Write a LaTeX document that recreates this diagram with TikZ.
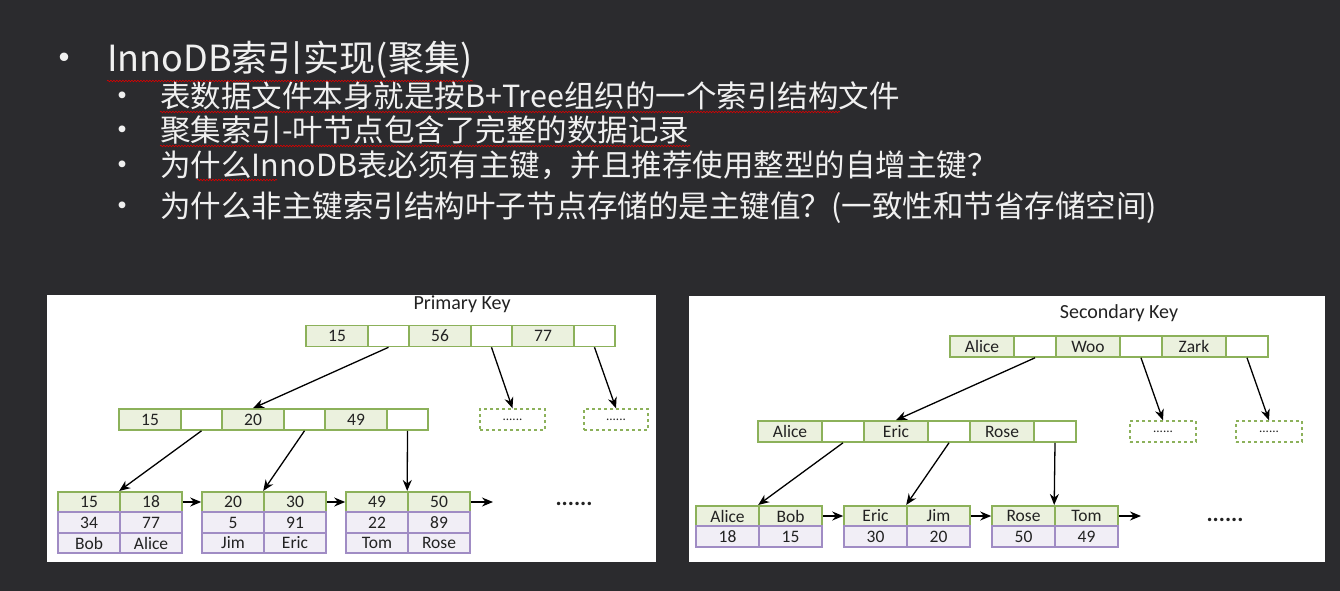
\documentclass[tikz,border=0pt]{standalone}
\usepackage{fontspec}
\newfontfamily\cjk{Noto Sans CJK SC}
\newfontfamily\dia{Carlito}
\usetikzlibrary{arrows.meta,decorations.pathmorphing}
\definecolor{bg}{HTML}{2B2B2E}
\definecolor{gborder}{HTML}{8CB15A}
\definecolor{gfill}{HTML}{EBF1DE}
\definecolor{pborder}{HTML}{A08CC4}
\definecolor{pfill}{HTML}{F1EEF6}
\definecolor{txt}{HTML}{F0F0F0}
\definecolor{celltxt}{HTML}{222222}
\tikzset{
  cell/.style={draw=gborder, line width=1.6pt, minimum height=21pt, inner sep=0pt,
    font=\dia\fontsize{17.5}{17.5}\selectfont, text=celltxt},
  kcell/.style={cell, fill=gfill},
  pcell/.style={cell, fill=white},
  vcell/.style={cell, draw=pborder, fill=pfill},
  dbox/.style={draw=gborder, dashed, line width=1.3pt, fill=white, minimum height=21pt,
    inner sep=0pt, font=\dia\fontsize{13}{13}\selectfont, text=celltxt},
  arr/.style={-{Stealth[length=11pt,width=9pt]}, line width=1.3pt, black},
  line/.style={anchor=base west, text=txt, inner sep=0pt},
  wavy/.style={red!85!black, line width=0.6pt, decorate,
    decoration={snake, amplitude=0.8pt, segment length=3pt}},
  ptitle/.style={font=\dia\fontsize{20}{20}\selectfont, text=celltxt},
  dots/.style={font=\dia\bfseries\fontsize{23}{23}\selectfont, text=celltxt},
}
\begin{document}
\begin{tikzpicture}[x=1pt,y=-1pt]
\useasboundingbox (0,0) rectangle (1340,591);
\fill[bg] (0,0) rectangle (1340,591);

% ---- text ----
\node[line, font=\cjk\fontsize{40}{40}\selectfont] (b0) at (44,73) {•};
\node[line, font=\cjk\fontsize{36}{36}\selectfont] (t0) at (107,72) {InnoDB索引实现(聚集)};
\foreach \n/\y/\t in {1/108/表数据文件本身就是按B+Tree组织的一个索引结构文件,
                      2/142/聚集索引-叶节点包含了完整的数据记录,
                      3/176/为什么InnoDB表必须有主键，并且推荐使用整型的自增主键？,
                      4/217/为什么非主键索引结构叶子节点存储的是主键值？(一致性和节省存储空间)}{
  \node[line, font=\cjk\fontsize{32}{32}\selectfont] (b\n) at (106,\y) {•};
  \node[line, font=\cjk\fontsize{30.5}{30.5}\selectfont] (t\n) at (160,\y) {\t};
}
\draw[wavy] (107,81) -- (473,81);
\draw[wavy] (160,112) -- (840,112);
\draw[wavy] (160,146) -- (690,146);
\draw[wavy] (197,180) -- (277,180);

% ---- panels ----
\fill[white] (47,295) rectangle (656,562);
\fill[white] (689,296) rectangle (1325,562);

% ================= LEFT: Primary Key =================
\node[ptitle] (ltitle) at (462,304) {Primary Key};
% root
\foreach \i/\t in {1/15,2/56,3/77}{
  \node[kcell, minimum width=62pt] (LRk\i) at ({306+103*(\i-1)+31},336) {\t};
  \node[pcell, minimum width=41pt] (LRp\i) at ({306+103*(\i-1)+82.5},336) {};
}
% level 2
\foreach \i/\t in {1/15,2/20,3/49}{
  \node[kcell, minimum width=62pt] (LMk\i) at ({119+103*(\i-1)+31},419.5) {\t};
  \node[pcell, minimum width=41pt] (LMp\i) at ({119+103*(\i-1)+82.5},419.5) {};
}
\node[dbox, minimum width=65pt] (LD1) at (512.5,419.5) {......};
\node[dbox, minimum width=64pt] (LD2) at (616,419.5) {......};
% leaves
\foreach \i/\a/\b/\c/\d/\e/\f in {1/15/18/34/77/Bob/Alice, 2/20/30/5/91/Jim/Eric, 3/49/50/22/89/Tom/Rose}{
  \node[kcell, minimum width=62pt, minimum height=20.5pt] (LL\i a) at ({58+144*(\i-1)+31},502) {\a};
  \node[kcell, minimum width=62pt, minimum height=20.5pt] (LL\i b) at ({58+144*(\i-1)+93},502) {\b};
  \node[vcell, minimum width=62pt, minimum height=20.5pt] (LL\i c) at ({58+144*(\i-1)+31},522.5) {\c};
  \node[vcell, minimum width=62pt, minimum height=20.5pt] (LL\i d) at ({58+144*(\i-1)+93},522.5) {\d};
  \node[vcell, minimum width=62pt, minimum height=20.5pt] (LL\i e) at ({58+144*(\i-1)+31},543) {\e};
  \node[vcell, minimum width=62pt, minimum height=20.5pt] (LL\i f) at ({58+144*(\i-1)+93},543) {\f};
}
\coordinate (LLend) at (493,502);
\node[dots] (Ldots) at (574,504) {......};
% arrows
\draw[arr] (LRp1.south) -- (LMk2.north);
\draw[arr] (LRp2.south) -- (LD1.north);
\draw[arr] (LRp3.south) -- (LD2.north);
\draw[arr] (LMp1.south) -- (LL1b.north west);
\draw[arr] (LMp2.south) -- (LL2b.north west);
\draw[arr] (LMp3.south) -- (LL3b.north west);
\draw[arr] (LL1b.east) -- (LL2a.west);
\draw[arr] (LL2b.east) -- (LL3a.west);
\draw[arr] (LL3b.east) -- (LLend);

% ================= RIGHT: Secondary Key =================
\node[ptitle] (rtitle) at (1119,313) {Secondary Key};
\foreach \i/\t in {1/Alice,2/Woo,3/Zark}{
  \node[kcell, minimum width=64pt] (RRk\i) at ({950+106*(\i-1)+32},346.5) {\t};
  \node[pcell, minimum width=42pt] (RRp\i) at ({950+106*(\i-1)+85},346.5) {};
}
\foreach \i/\t in {1/Alice,2/Eric,3/Rose}{
  \node[kcell, minimum width=64pt] (RMk\i) at ({758+106*(\i-1)+32},431.5) {\t};
  \node[pcell, minimum width=42pt] (RMp\i) at ({758+106*(\i-1)+85},431.5) {};
}
\node[dbox, minimum width=66pt] (RD1) at (1163,431.5) {......};
\node[dbox, minimum width=66pt] (RD2) at (1269,431.5) {......};
\foreach \i/\a/\b/\c/\d in {1/Alice/Bob/18/15, 2/Eric/Jim/30/20, 3/Rose/Tom/50/49}{
  \node[kcell, minimum width=63pt, minimum height=20.5pt] (RL\i a) at ({696+148*(\i-1)+31.5},516) {\a};
  \node[kcell, minimum width=63pt, minimum height=20.5pt] (RL\i b) at ({696+148*(\i-1)+94.5},516) {\b};
  \node[vcell, minimum width=63pt, minimum height=20.5pt] (RL\i c) at ({696+148*(\i-1)+31.5},536.5) {\c};
  \node[vcell, minimum width=63pt, minimum height=20.5pt] (RL\i d) at ({696+148*(\i-1)+94.5},536.5) {\d};
}
\coordinate (RLend) at (1141,516);
\node[dots] (Rdots) at (1225,520) {......};
\draw[arr] (RRp1.south) -- (RMk2.north);
\draw[arr] (RRp2.south) -- (RD1.north);
\draw[arr] (RRp3.south) -- (RD2.north);
\draw[arr] (RMp1.south) -- (RL1b.north west);
\draw[arr] (RMp2.south) -- (RL2b.north west);
\draw[arr] (RMp3.south) -- (RL3b.north west);
\draw[arr] (RL1b.east) -- (RL2a.west);
\draw[arr] (RL2b.east) -- (RL3a.west);
\draw[arr] (RL3b.east) -- (RLend);
\end{tikzpicture}
\end{document}
